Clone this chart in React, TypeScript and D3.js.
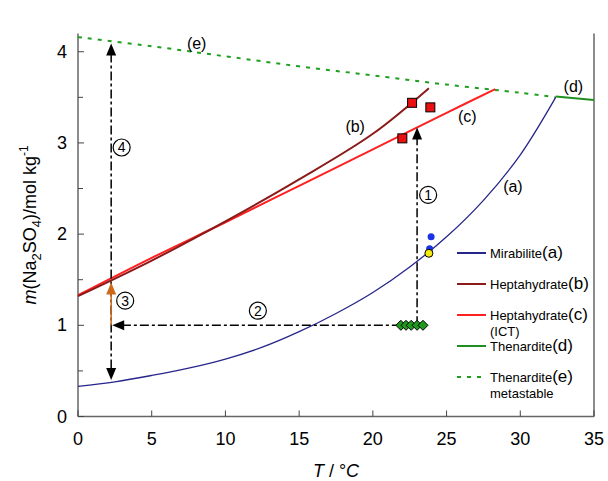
import React from "react";
import * as d3 from "d3";

// solubility curves (T in °C, m in mol/kg)
const mirabiliteT = [0, 2.5, 5, 7.5, 10, 12.5, 15, 17.5, 20, 22.5, 25, 27.5, 30, 32.4];
const mirabiliteM = [0.33, 0.38, 0.45, 0.53, 0.63, 0.76, 0.93, 1.13, 1.36, 1.64, 1.97, 2.37, 2.87, 3.5];
const heptaT = [0, 5, 10, 15, 20, 23.8];
const heptaM = [1.32, 1.71, 2.14, 2.6, 3.1, 3.6];
const heptaIctT = [0, 5, 10, 15, 20, 25, 28.3];
const heptaIctM = [1.33, 1.74, 2.13, 2.53, 2.93, 3.33, 3.59];
const thenarditeT = [32.4, 35];
const thenarditeM = [3.51, 3.47];
const metaT = [0, 5, 10, 15, 20, 25, 30, 32.4];
const metaM = [4.16, 4.06, 3.95, 3.84, 3.74, 3.64, 3.55, 3.5];

// measured points
const squaresT = [22.66, 23.9, 22.0];
const squaresM = [3.44, 3.39, 3.05];
const blueT = [23.95, 23.85];
const blueM = [1.97, 1.84];
const yellowT = [23.8];
const yellowM = [1.79];
const diamondT = [21.9, 22.25, 22.6, 23.0, 23.4];
const diamondM = [1.0, 1.0, 1.0, 1.0, 1.0];

const xTicks = [0, 5, 10, 15, 20, 25, 30, 35];
const yTicks = [0, 1, 2, 3, 4];
const yMinor = [0.5, 1.5, 2.5, 3.5];

const zip = (xs: number[], ys: number[]) => xs.map((x, i) => [x, ys[i]] as [number, number]);

const W = 608;
const H = 481;
const font = "'Liberation Sans', Arial, sans-serif";

export default function App() {
  const x = d3.scaleLinear().domain([0, 35]).range([78, 594]);
  const y = d3.scaleLinear().domain([0, 4.2]).range([416.5, 33.5]);

  const line = d3
    .line<[number, number]>()
    .x(d => x(d[0]))
    .y(d => y(d[1]))
    .curve(d3.curveCatmullRom);

  const arrowDash = "9 3 3 3";

  const head = (px: number, py: number, dir: string, color: string) => {
    const l = 12, w = 5;
    let pts: number[][] = [];
    if (dir === "up") pts = [[px, py], [px - w, py + l], [px + w, py + l]];
    if (dir === "down") pts = [[px, py], [px - w, py - l], [px + w, py - l]];
    if (dir === "left") pts = [[px, py], [px + l, py - w], [px + l, py + w]];
    return <polygon points={pts.map(p => p.join(",")).join(" ")} fill={color} />;
  };

  const circled = (t: number, m: number, label: string) => (
    <g>
      <circle cx={x(t)} cy={y(m)} r={8.5} fill="white" stroke="#000" strokeWidth={1.2} />
      <text x={x(t)} y={y(m) + 5} textAnchor="middle" fontSize={14} fontFamily={font}>{label}</text>
    </g>
  );

  const legend = [
    { name: "Mirabilite", tag: "(a)", color: "#26268a", dash: undefined, sub: "", yy: 253 },
    { name: "Heptahydrate", tag: "(b)", color: "#8b1a1a", dash: undefined, sub: "", yy: 284 },
    { name: "Heptahydrate", tag: "(c)", color: "#ff2020", dash: undefined, sub: "(ICT)", yy: 315 },
    { name: "Thenardite", tag: "(d)", color: "#1f8f1f", dash: undefined, sub: "", yy: 346 },
    { name: "Thenardite", tag: "(e)", color: "#1f9f1f", dash: "4 6", sub: "metastable", yy: 377 },
  ];

  const xv = 2.25;

  return (
    <svg width={W} height={H} style={{ position: "absolute", left: 0, top: 0, background: "white" }}>
      {/* axes frame */}
      <line x1={x(0)} x2={x(0)} y1={y(4.2)} y2={y(0)} stroke="#666" strokeWidth={1.5} />
      <line x1={x(35)} x2={x(35)} y1={y(4.2)} y2={y(0)} stroke="#666" strokeWidth={1.5} />
      <line x1={x(0)} x2={x(35)} y1={y(0)} y2={y(0)} stroke="#666" strokeWidth={1.5} />
      {yTicks.map(t => (
        <g key={"y" + t}>
          <line x1={x(0)} x2={x(0) + 6} y1={y(t)} y2={y(t)} stroke="#444" strokeWidth={1} />
          <text x={67} y={y(t) + 6} textAnchor="end" fontSize={18} fontFamily={font}>{t}</text>
        </g>
      ))}
      {yMinor.map(t => (
        <line key={"ym" + t} x1={x(0)} x2={x(0) + 5} y1={y(t)} y2={y(t)} stroke="#444" strokeWidth={1} />
      ))}
      {xTicks.map(t => (
        <g key={"x" + t}>
          <line x1={x(t)} x2={x(t)} y1={y(0)} y2={y(0) - 6} stroke="#444" strokeWidth={1} />
          <text x={x(t)} y={445} textAnchor="middle" fontSize={18} fontFamily={font}>{t}</text>
        </g>
      ))}
      <text x={(x(0) + x(35)) / 2} y={477} textAnchor="middle" fontSize={18} fontFamily={font}>
        <tspan fontStyle="italic">T</tspan> / °<tspan fontStyle="italic">C</tspan>
      </text>
      <text transform={`translate(36,${(y(0) + y(4.2)) / 2}) rotate(-90)`} textAnchor="middle" fontSize={18} fontFamily={font}>
        <tspan fontStyle="italic">m</tspan>(Na<tspan fontSize={13} dy={5}>2</tspan>
        <tspan dy={-5}>SO</tspan><tspan fontSize={13} dy={5}>4</tspan>
        <tspan dy={-5}>)/mol kg</tspan><tspan fontSize={12} dy={-8}>-1</tspan>
      </text>

      {/* curves */}
      <path d={line(zip(metaT, metaM)) || ""} fill="none" stroke="#1f9f1f" strokeWidth={2} strokeDasharray="4 6" />
      <path d={line(zip(mirabiliteT, mirabiliteM)) || ""} fill="none" stroke="#26268a" strokeWidth={1.3} />
      <path d={line(zip(thenarditeT, thenarditeM)) || ""} fill="none" stroke="#1f8f1f" strokeWidth={2} />
      <path d={line(zip(heptaIctT, heptaIctM)) || ""} fill="none" stroke="#ff2020" strokeWidth={2} />
      <path d={line(zip(heptaT, heptaM)) || ""} fill="none" stroke="#8b1a1a" strokeWidth={2} />

      {/* arrows */}
      <line x1={x(diamondT[3])} x2={x(diamondT[3])} y1={y(1.0)} y2={y(3.17) + 10} stroke="#000" strokeWidth={1.5} strokeDasharray={arrowDash} />
      {head(x(diamondT[3]), y(3.17), "up", "#000")}
      <line x1={x(diamondT[0])} x2={x(xv) + 10} y1={y(1.0)} y2={y(1.0)} stroke="#000" strokeWidth={1.5} strokeDasharray={arrowDash} />
      {head(x(xv) + 1, y(1.0), "left", "#000")}
      <line x1={x(xv)} x2={x(xv)} y1={y(4.09) + 10} y2={y(0.4) - 10} stroke="#000" strokeWidth={1.5} strokeDasharray={arrowDash} />
      {head(x(xv), y(4.09), "up", "#000")}
      {head(x(xv), y(0.4), "down", "#000")}
      <line x1={x(xv)} x2={x(xv)} y1={y(1.0)} y2={y(1.47) + 8} stroke="#cc6a1a" strokeWidth={1.5} />
      {head(x(xv), y(1.47), "up", "#cc6a1a")}

      {/* points */}
      {zip(diamondT, diamondM).map((d, i) => (
        <polygon key={"d" + i}
          points={`${x(d[0]) - 5},${y(d[1])} ${x(d[0])},${y(d[1]) - 5} ${x(d[0]) + 5},${y(d[1])} ${x(d[0])},${y(d[1]) + 5}`}
          fill="#1f9a1f" stroke="#000" strokeWidth={1} />
      ))}
      {zip(squaresT, squaresM).map((d, i) => (
        <rect key={"s" + i} x={x(d[0]) - 4.5} y={y(d[1]) - 4.5} width={9} height={9} fill="#e81010" stroke="#000" strokeWidth={1} />
      ))}
      {zip(blueT, blueM).map((d, i) => (
        <circle key={"b" + i} cx={x(d[0])} cy={y(d[1])} r={3.5} fill="#1a33e6" />
      ))}
      {zip(yellowT, yellowM).map((d, i) => (
        <circle key={"yl" + i} cx={x(d[0])} cy={y(d[1])} r={4} fill="#f5ea10" stroke="#000" strokeWidth={1} />
      ))}

      {/* labels */}
      {circled(23.75, 2.43, "1")}
      {circled(12.2, 1.16, "2")}
      {circled(3.2, 1.27, "3")}
      {circled(2.96, 2.95, "4")}
      <text x={x(8.05)} y={y(4.09) + 5} textAnchor="middle" fontSize={16} fontFamily={font}>(e)</text>
      <text x={x(33.6)} y={y(3.61) + 5} textAnchor="middle" fontSize={16} fontFamily={font}>(d)</text>
      <text x={x(18.8)} y={y(3.17) + 5} textAnchor="middle" fontSize={16} fontFamily={font}>(b)</text>
      <text x={x(26.4)} y={y(3.28) + 5} textAnchor="middle" fontSize={16} fontFamily={font}>(c)</text>
      <text x={x(29.5)} y={y(2.52) + 5} textAnchor="middle" fontSize={16} fontFamily={font}>(a)</text>

      {/* legend */}
      {legend.map((l, i) => (
        <g key={"l" + i}>
          <line x1={457} x2={486} y1={l.yy} y2={l.yy} stroke={l.color} strokeWidth={2} strokeDasharray={l.dash} />
          <text x={490} y={l.yy + 5} fontSize={13} fontFamily={font}>
            {l.name}<tspan fontSize={17}>{l.tag}</tspan>
          </text>
          {l.sub && <text x={490} y={l.yy + 21} fontSize={13} fontFamily={font}>{l.sub}</text>}
        </g>
      ))}
    </svg>
  );
}
